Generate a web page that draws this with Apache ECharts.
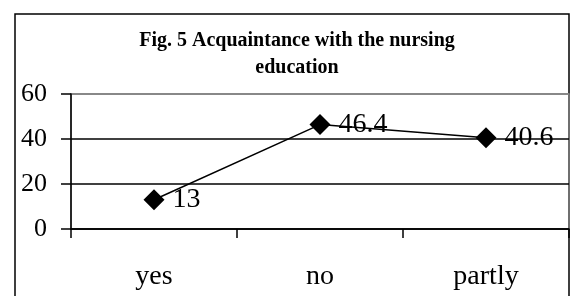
<!DOCTYPE html>
<html>
<head>
<meta charset="utf-8">
<script src="https://cdn.jsdelivr.net/npm/echarts@6/dist/echarts.min.js"></script>
<style>
  html, body { margin: 0; padding: 0; background: #fff; }
  #main_chart { width: 571px; height: 296px; }
</style>
</head>
<body>
<div id="main_chart"></div>
<script>
// chart data
var categories = ['yes', 'no', 'partly'];
var values = [13, 46.4, 40.6];
var yTicks = { min: 0, max: 60, interval: 20 };
var chartTitle = 'Fig. 5 Acquaintance with the nursing\neducation';

var SERIF = '"Liberation Serif", "Times New Roman", serif';

var mychart = echarts.init(document.getElementById('main_chart'));

var option = {
    backgroundColor: '#fff',
    animation: false,
    title: {
        text: chartTitle,
        left: 292,
        top: 22,
        textAlign: 'center',
        textStyle: {
            fontFamily: SERIF,
            fontWeight: 'bold',
            fontSize: 20,
            lineHeight: 27,
            color: '#000'
        }
    },
    // outer frame of the figure
    graphic: [{
        type: 'rect',
        z: -1,
        shape: { x: 15, y: 14, width: 554, height: 300 },
        style: { fill: 'none', stroke: '#000', lineWidth: 1.5 }
    }],
    grid: {
        left: 71,
        top: 94,
        width: 498,
        height: 135,
        show: true,
        borderColor: '#808080',
        borderWidth: 1.5,
        backgroundColor: 'transparent'
    },
    xAxis: {
        type: 'category',
        boundaryGap: true,
        data: categories,
        axisLine: { lineStyle: { color: '#000', width: 1.5 } },
        axisTick: { show: true, inside: false, length: 9, lineStyle: { color: '#000', width: 1.5 } },
        axisLabel: { color: '#000', fontFamily: SERIF, fontSize: 28, margin: 34 },
        splitLine: { show: false }
    },
    yAxis: {
        type: 'value',
        min: yTicks.min,
        max: yTicks.max,
        interval: yTicks.interval,
        axisLine: { show: true, lineStyle: { color: '#000', width: 1.5 } },
        axisTick: { show: true, inside: false, length: 10, lineStyle: { color: '#000', width: 1.5 } },
        axisLabel: { color: '#000', fontFamily: SERIF, fontSize: 26, margin: 24 },
        splitLine: { show: true, lineStyle: { color: ['#000', '#000', '#000', '#808080'], width: 1.5 } }
    },
    series: [{
        type: 'line',
        data: values,
        symbol: 'diamond',
        symbolSize: 21,
        itemStyle: { color: '#000' },
        lineStyle: { color: '#000', width: 1.5 },
        label: {
            show: true,
            position: 'right',
            distance: 8,
            color: '#000',
            fontFamily: SERIF,
            fontSize: 28
        }
    }]
};

mychart.setOption(option);
</script>
</body>
</html>
